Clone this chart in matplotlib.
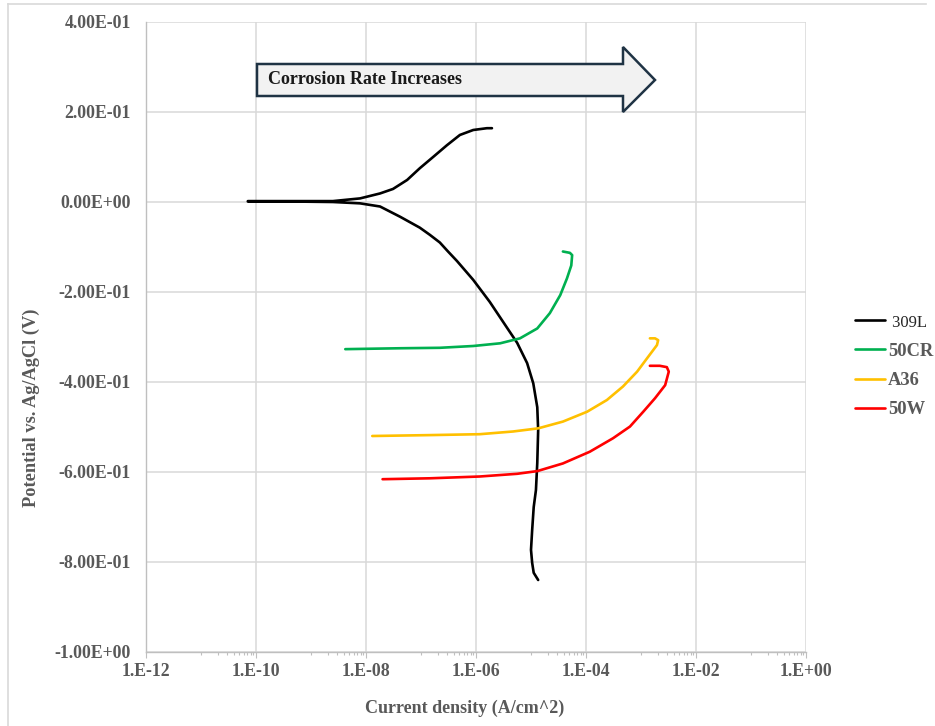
import math
import matplotlib
matplotlib.use("Agg")
import matplotlib.pyplot as plt
from matplotlib.lines import Line2D
from matplotlib.patches import Polygon
from matplotlib.ticker import FixedLocator, FuncFormatter, NullFormatter

# ---- polarization data: current density (A/cm^2) and potential (V vs Ag/AgCl) ----
# 309L: cathodic branch (bottom up) followed by the anodic branch
i_309L = [1.35e-5, 1.12e-5, 1.05e-5, 1.0e-5, 1.05e-5, 1.12e-5, 1.23e-5, 1.3e-5, 1.35e-5,
          1.3e-5, 1.1e-5, 8.5e-6, 5.6e-6, 3.6e-6, 1.78e-6, 8.9e-7, 4.5e-7, 3.1e-7, 2.2e-7,
          1.45e-7, 9.5e-8, 4.2e-8, 1.8e-8, 7.8e-9, 2.5e-9, 5.0e-10, 7.1e-11,
          7.1e-11, 5.0e-10, 2.5e-9, 7.8e-9, 1.8e-8, 3.1e-8, 5.6e-8, 9.5e-8, 1.66e-7,
          2.95e-7, 5.1e-7, 8.9e-7, 1.58e-6, 1.95e-6]
e_309L = [-0.840, -0.824, -0.802, -0.773, -0.729, -0.678, -0.640, -0.580, -0.507,
          -0.456, -0.403, -0.358, -0.313, -0.278, -0.222, -0.173, -0.131, -0.110, -0.090,
          -0.073, -0.057, -0.033, -0.010, -0.003, 0.000, 0.001, 0.001,
          0.002, 0.002, 0.002, 0.008, 0.019, 0.029, 0.049, 0.075, 0.100,
          0.126, 0.149, 0.160, 0.164, 0.164]

i_50CR = [4.2e-9, 4.2e-8, 2.2e-7, 8.9e-7, 2.75e-6, 6.3e-6, 1.3e-5, 2.2e-5, 3.4e-5,
          4.5e-5, 5.4e-5, 5.6e-5, 5.1e-5, 3.8e-5]
e_50CR = [-0.327, -0.325, -0.324, -0.320, -0.314, -0.303, -0.281, -0.247, -0.207,
          -0.170, -0.141, -0.118, -0.113, -0.110]

i_A36 = [1.3e-8, 1.45e-7, 1.17e-6, 4.7e-6, 1.35e-5, 3.8e-5, 1.05e-4, 2.4e-4, 4.7e-4,
         8.5e-4, 1.35e-3, 1.95e-3, 2.05e-3, 1.8e-3, 1.45e-3]
e_A36 = [-0.520, -0.518, -0.516, -0.510, -0.503, -0.488, -0.466, -0.440, -0.410,
         -0.377, -0.344, -0.318, -0.307, -0.303, -0.303]

i_50W = [2.0e-8, 1.45e-7, 1.17e-6, 5.6e-6, 1.3e-5, 3.8e-5, 1.17e-4, 3.1e-4, 6.3e-4,
         1.1e-3, 1.8e-3, 2.75e-3, 3.2e-3, 2.95e-3, 2.2e-3, 1.45e-3]
e_50W = [-0.616, -0.614, -0.610, -0.604, -0.598, -0.581, -0.555, -0.525, -0.499,
         -0.466, -0.436, -0.407, -0.377, -0.367, -0.364, -0.364]

series_labels = ["309L", "50CR", "A36", "50W"]
series_colors = ["#000000", "#00b050", "#ffc000", "#ff0000"]

x_exponents = [-12, -10, -8, -6, -4, -2, 0]
y_ticks = [0.4, 0.2, 0.0, -0.2, -0.4, -0.6, -0.8, -1.0]

W, H = 935, 726
plt.rcParams["font.family"] = ["Liberation Serif", "DejaVu Serif"]
fig = plt.figure(figsize=(W / 100, H / 100), dpi=100)
fig.patch.set_facecolor("white")

def fx(px):
    return px / W

def fy(py):
    return 1 - py / H

ax = fig.add_axes([fx(146), fy(652), fx(806) - fx(146), fy(22) - fy(652)])

data = [(i_309L, e_309L), (i_50CR, e_50CR), (i_A36, e_A36), (i_50W, e_50W)]
handles = []
for (i_vals, e_vals), lab, col in zip(data, series_labels, series_colors):
    h, = ax.plot(i_vals, e_vals, color=col, lw=1.9, label=lab,
                 solid_joinstyle="round", solid_capstyle="round", zorder=3)
    handles.append(h)

ax.set_xscale("log")
ax.set_xlim(1e-12, 1e0)
ax.set_ylim(-1.0, 0.4)

ax.xaxis.set_major_locator(FixedLocator([10.0 ** e for e in x_exponents]))
ax.xaxis.set_major_formatter(FuncFormatter(
    lambda v, p: "1.E{:+03d}".format(int(round(math.log10(v))))))
# minor ticks only in the decade just below each labelled decade
minor_pos = [m * 10.0 ** (e - 1) for e in x_exponents[1:] for m in range(1, 10)]
ax.xaxis.set_minor_locator(FixedLocator(minor_pos))
ax.xaxis.set_minor_formatter(NullFormatter())
ax.yaxis.set_major_locator(FixedLocator(y_ticks))
ax.yaxis.set_major_formatter(FuncFormatter(lambda v, p: "{:.2E}".format(v)))

grid_col = "#d9d9d9"
ax.grid(True, which="major", color=grid_col, lw=1.1, zorder=0)
ax.set_axisbelow(True)
for s in ["top", "right"]:
    ax.spines[s].set_visible(False)
for s in ["left", "bottom"]:
    ax.spines[s].set_color("#bfbfbf")
    ax.spines[s].set_linewidth(1.0)

tick_col = "#595959"
ax.tick_params(axis="x", which="major", direction="out", length=4, width=0.8,
               color="#bfbfbf", labelsize=12.8, labelcolor=tick_col, pad=4)
ax.tick_params(axis="x", which="minor", direction="out", length=2.5, width=0.8,
               color="#bfbfbf")
ax.tick_params(axis="y", which="both", length=0, labelsize=12.8,
               labelcolor=tick_col, pad=11)
for lbl in ax.get_xticklabels() + ax.get_yticklabels():
    lbl.set_fontweight("bold")

# axis titles
fig.text(fx(465), fy(708), "Current density (A/cm^2)", ha="center", va="center",
         fontsize=13, fontweight="bold", color=tick_col)
fig.text(fx(31), fy(408), "Potential vs. Ag/AgCl (V)", ha="center", va="center",
         rotation=90, fontsize=13.2, fontweight="bold", color=tick_col)

# block arrow with caption
arrow_px = [(257, 64), (623, 64), (623, 47), (655, 80), (623, 112), (623, 96), (257, 96)]
arrow = Polygon([(fx(x), fy(y)) for x, y in arrow_px], closed=True,
                transform=fig.transFigure, facecolor="#f2f2f2", edgecolor="#1f3344",
                lw=1.8, joinstyle="miter", zorder=5)
fig.add_artist(arrow)
fig.text(fx(268), fy(80), "Corrosion Rate Increases", ha="left", va="center",
         fontsize=13, fontweight="bold", color="#1a1a1a", zorder=6)

# legend
leg = fig.legend(handles=handles, labels=[" 309L", "50CR", "A36", "50W"],
                 loc="center left", bbox_to_anchor=(fx(855), fy(366)),
                 frameon=False, fontsize=13.3, handlelength=1.62, handletextpad=0.16,
                 labelspacing=0.66, borderpad=0, borderaxespad=0)
for k, t in enumerate(leg.get_texts()):
    if k == 0:
        t.set_fontweight("normal")
        t.set_color("#262626")
        t.set_fontsize(12)
    else:
        t.set_fontweight("bold")
        t.set_color(tick_col)

# outer chart frame
fig.add_artist(Line2D([fx(8), fx(926)], [fy(4), fy(4)], transform=fig.transFigure,
                      color="#d9d9d9", lw=1.2))
fig.add_artist(Line2D([fx(8), fx(8)], [fy(4), fy(726)], transform=fig.transFigure,
                      color="#d9d9d9", lw=1.2))

fig.savefig("out.png", dpi=100, facecolor="white")
